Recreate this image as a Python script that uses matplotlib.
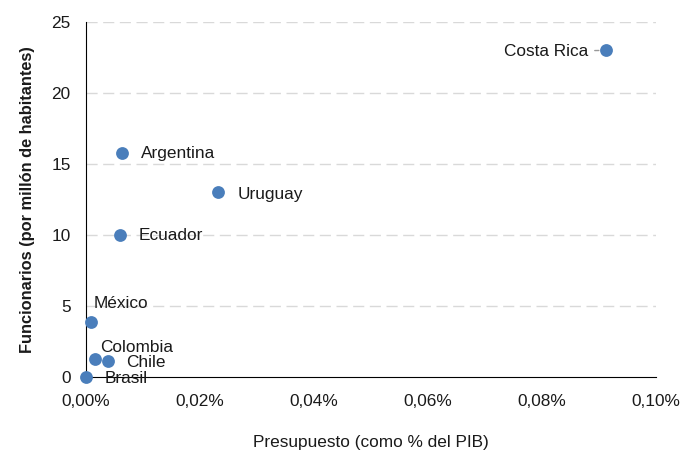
import matplotlib
matplotlib.use('Agg')
import matplotlib.pyplot as plt
from matplotlib.ticker import FuncFormatter, MultipleLocator

plt.rcParams['font.family'] = ['Liberation Sans', 'DejaVu Sans']

# Datos
paises = ['Costa Rica', 'Argentina', 'Uruguay', 'Ecuador', 'México', 'Colombia', 'Chile', 'Brasil']
presupuesto = [0.0912, 0.0063, 0.0232, 0.0060, 0.0009, 0.0016, 0.0039, 0.0000]  # % del PIB
funcionarios = [23.0, 15.8, 13.0, 10.0, 3.9, 1.3, 1.15, 0.0]  # por millón de habitantes

# desplazamientos de las etiquetas (px)
offsets = {
    'Costa Rica': (-18, -1, 'right'),
    'Argentina': (19, -1, 'left'),
    'Uruguay': (19, -2, 'left'),
    'Ecuador': (18, -1, 'left'),
    'México': (3, 18, 'left'),
    'Colombia': (5, 11, 'left'),
    'Chile': (18, -2, 'left'),
    'Brasil': (19, -1, 'left'),
}

fs = 12.4
fig = plt.figure(figsize=(6.84, 4.54), dpi=100)
ax = fig.add_axes([0.1257, 0.1696, 0.8333, 0.782])

ax.scatter(presupuesto, funcionarios, s=85, color='#4a7ebb', zorder=3, clip_on=False, linewidths=0)

for p, x, y in zip(paises, presupuesto, funcionarios):
    dx, dy, ha = offsets[p]
    if p == 'Costa Rica':
        ax.annotate(p, (x, y), xytext=(dx, dy), textcoords='offset pixels', ha=ha, va='center',
                    fontsize=fs, color='#1a1a1a',
                    arrowprops=dict(arrowstyle='-', color='#999999', lw=1, shrinkA=3, shrinkB=5))
    else:
        ax.annotate(p, (x, y), xytext=(dx, dy), textcoords='offset pixels', ha=ha, va='center',
                    fontsize=fs, color='#1a1a1a', zorder=4)

ax.set_xlim(0, 0.10)
ax.set_ylim(0, 25)
ax.xaxis.set_major_locator(MultipleLocator(0.02))
ax.yaxis.set_major_locator(MultipleLocator(5))
ax.xaxis.set_major_formatter(FuncFormatter(lambda v, pos: f'{v:.2f}%'.replace('.', ',')))

for yv in range(5, 26, 5):
    ax.axhline(yv, color='#d9d9d9', lw=1, dashes=(8, 4), zorder=1)

for s in ['top', 'right']:
    ax.spines[s].set_visible(False)
ax.spines['left'].set_color('black')
ax.spines['bottom'].set_color('black')
ax.tick_params(length=0, labelsize=fs, colors='#1a1a1a')
ax.tick_params(axis='x', pad=12)
ax.tick_params(axis='y', pad=11)

ax.set_xlabel('Presupuesto (como % del PIB)', fontsize=fs, color='#1a1a1a', labelpad=19)
ax.set_ylabel('Funcionarios (por millón de habitantes)', fontsize=11.8, color='#1a1a1a',
              fontweight='bold', labelpad=12)

fig.savefig('out.png', dpi=100)
